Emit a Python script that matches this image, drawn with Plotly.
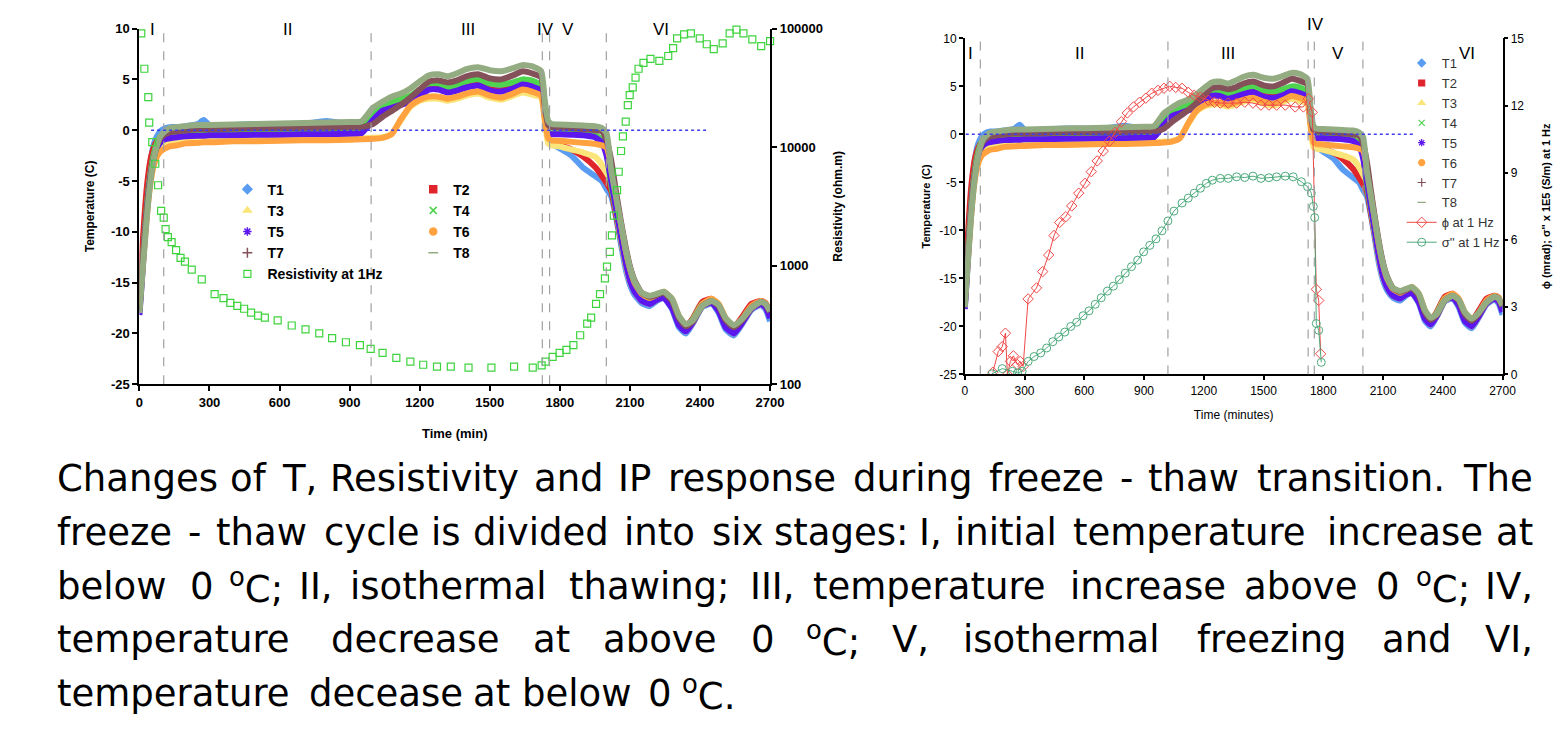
import plotly.graph_objects as go

# ---------------- data ----------------
time_T = [0, 10, 20, 30, 40, 50, 60, 75, 90, 110, 130, 160, 200, 250, 275, 300,
          400, 500, 600, 700, 800, 900, 950, 1000,
          1040, 1080, 1120, 1160, 1200, 1240, 1280, 1320, 1360, 1400, 1450, 1500, 1550, 1600, 1640, 1680, 1720,
          1735, 1750, 1765,
          1800, 1850, 1900, 1950, 1980, 2000,
          2020, 2040, 2060, 2080, 2100, 2120, 2150, 2185, 2215, 2245, 2280, 2310, 2340, 2370, 2410, 2450,
          2480, 2510, 2545, 2580, 2620, 2660, 2680, 2700]

T1 = [-17.5, -14, -10.5, -7, -4.5, -2.8, -1.5, -0.6, -0.1, 0.2, 0.3, 0.3, 0.4, 0.6, 1.0, 0.5,
      0.5, 0.6, 0.6, 0.6, 0.9, 0.6, 0.7, 1.6,
      2.3, 2.7, 3.0, 3.3, 3.9, 4.5, 4.5, 4.1, 4.3, 4.7, 4.9, 4.5, 4.4, 4.6, 4.9, 4.8, 4.3,
      1.5, -0.8, -1.3,
      -1.8, -2.5, -3.7, -4.5, -5.0, -5.8,
      -6.5, -8.5, -11.0, -13.5, -15.2, -16.2, -17.0, -17.3, -16.8, -16.5, -17.6, -19.4, -20.0, -19.0, -17.4, -17.1,
      -18.0, -19.6, -20.2, -19.1, -17.7, -17.2, -17.6, -18.8]
T2 = [-16.5, -12.5, -9, -6, -4, -2.6, -1.8, -1.1, -0.8, -0.6, -0.5, -0.5, -0.4, -0.4, -0.4, -0.4,
      -0.35, -0.3, -0.3, -0.3, -0.3, -0.25, -0.2, 1.0,
      2.0, 2.3, 2.6, 2.9, 3.5, 4.1, 4.1, 3.8, 4.0, 4.3, 4.5, 4.0, 3.9, 4.2, 4.6, 4.4, 4.0,
      1.8, -0.8, -1.3,
      -1.5, -1.9, -2.6, -3.6, -4.5, -5.2,
      -6.0, -8.3, -10.6, -13.0, -14.8, -15.7, -16.4, -16.6, -16.2, -16.0, -16.9, -18.6, -19.3, -18.5, -16.9, -16.6,
      -17.3, -18.8, -19.4, -18.4, -17.1, -16.8, -17.0, -18.0]
T3 = [-17.5, -14.5, -11.5, -8.5, -6, -4.2, -3, -2, -1.5, -1.2, -1.1, -1.0, -1.0, -0.9, -0.9, -0.9,
      -0.9, -0.85, -0.8, -0.8, -0.8, -0.8, -0.8, -0.75,
      -0.7, -0.35, 1.0, 2.3, 2.9, 3.1, 3.1, 2.9, 3.1, 3.4, 3.6, 3.2, 3.0, 3.4, 3.7, 3.5, 3.2,
      1.0, -1.3, -1.5,
      -1.6, -1.9, -2.2, -2.6, -3.4, -4.2,
      -5.0, -7.8, -10.4, -13.0, -14.9, -15.9, -16.8, -17.1, -16.7, -16.4, -17.4, -19.1, -19.8, -18.9, -17.3, -17.0,
      -17.7, -19.3, -20.0, -19.0, -17.6, -17.1, -17.4, -18.4]
T4 = [-17.8, -14.5, -11, -8, -5.5, -3.8, -2.5, -1.3, -0.6, -0.3, -0.2, -0.15, -0.1, -0.1, -0.1, -0.1,
      -0.05, 0, 0, 0, 0.05, 0.1, 0.1, 1.8,
      2.4, 2.8, 3.1, 3.4, 4.0, 4.6, 4.6, 4.2, 4.4, 4.8, 5.0, 4.6, 4.5, 4.7, 5.0, 4.9, 4.4,
      2.0, -0.2, -0.3,
      -0.3, -0.35, -0.4, -0.5, -0.9, -2.2,
      -5.5, -7.8, -10.3, -12.8, -14.6, -15.6, -16.5, -16.8, -16.4, -16.2, -17.1, -18.8, -19.5, -18.6, -17.1, -16.8,
      -17.5, -19.0, -19.6, -18.7, -17.4, -17.0, -17.2, -18.2]
T5 = [-18.2, -15, -11.5, -8.5, -6, -4.2, -3, -1.8, -1.2, -0.9, -0.8, -0.7, -0.6, -0.55, -0.55, -0.5,
      -0.5, -0.45, -0.45, -0.4, -0.4, -0.35, -0.3, 1.0,
      1.9, 2.2, 2.5, 2.8, 3.4, 4.0, 4.0, 3.7, 3.9, 4.2, 4.4, 3.9, 3.8, 4.1, 4.5, 4.3, 3.9,
      1.5, -0.3, -0.4,
      -0.4, -0.45, -0.5, -0.7, -1.2, -2.5,
      -5.0, -7.6, -10.2, -12.8, -14.8, -15.9, -16.8, -17.1, -16.7, -16.5, -17.5, -19.2, -19.8, -18.9, -17.3, -17.0,
      -17.8, -19.4, -20.0, -19.0, -17.6, -17.1, -17.4, -18.5]
T6 = [-17.2, -14.5, -11.8, -9, -6.5, -4.8, -3.6, -2.6, -2.1, -1.8, -1.6, -1.5, -1.3, -1.25, -1.2, -1.2,
      -1.1, -1.1, -1.05, -1.0, -1.0, -0.95, -0.9, -0.85,
      -0.75, -0.4, 1.1, 2.4, 3.0, 3.3, 3.3, 3.1, 3.3, 3.6, 3.8, 3.4, 3.2, 3.6, 4.0, 3.8, 3.4,
      1.2, -0.8, -1.0,
      -1.05, -1.15, -1.25, -1.35, -1.5, -1.7,
      -3.5, -6.3, -9.0, -11.6, -13.6, -15.0, -16.1, -16.5, -16.2, -15.9, -16.6, -18.3, -19.2, -18.7, -17.1, -16.6,
      -17.1, -18.5, -19.3, -18.6, -17.3, -16.8, -17.0, -17.8]
T7 = [-17.8, -14.5, -11.2, -8.3, -6, -4.2, -2.9, -1.6, -0.8, -0.4, -0.2, -0.1, 0.0, 0.1, 0.1, 0.1,
      0.15, 0.2, 0.2, 0.25, 0.25, 0.3, 0.3, 0.6,
      1.3, 1.9, 2.5, 3.2, 4.0, 4.8, 4.9, 4.7, 4.9, 5.3, 5.5, 5.1, 5.0, 5.4, 5.8, 5.6, 5.2,
      2.5, 0.5, 0.3,
      0.25, 0.2, 0.1, 0.0, -0.1, -1.0,
      -3.0, -6.0, -8.8, -11.3, -13.4, -14.8, -16.0, -16.4, -16.2, -16.0, -16.8, -18.5, -19.3, -18.8, -17.3, -16.8,
      -17.3, -18.7, -19.4, -18.7, -17.5, -16.9, -17.1, -17.9]
T8 = [-18.0, -15, -12, -9, -6.5, -4.5, -3, -1.5, -0.6, -0.1, 0.2, 0.3, 0.4, 0.5, 0.5, 0.5,
      0.55, 0.6, 0.65, 0.7, 0.75, 0.8, 0.85, 2.2,
      2.8, 3.3, 3.6, 4.1, 4.8, 5.4, 5.5, 5.3, 5.6, 6.0, 6.2, 5.9, 5.8, 6.1, 6.4, 6.3, 5.8,
      3.0, 0.9, 0.6,
      0.55, 0.5, 0.45, 0.4, 0.2, -0.3,
      -4.0, -6.5, -9.0, -11.5, -13.5, -14.9, -16.0, -16.3, -16.1, -15.9, -16.6, -18.3, -19.1, -18.7, -17.3, -16.8,
      -17.2, -18.5, -19.2, -18.6, -17.5, -16.9, -17.1, -17.8]

time_res = [8, 21, 38, 42, 55, 68, 80, 93, 104, 112, 122, 138, 157, 176, 195, 224, 267, 322, 360, 389,
            419, 448, 478, 508, 537, 592, 652, 711, 770, 825, 884, 944, 990, 1041, 1100, 1160, 1215, 1274, 1333, 1409,
            1507, 1604, 1684, 1722, 1739, 1769, 1799, 1828, 1858, 1887, 1917, 1934, 1955, 1972, 1993, 2002, 2014, 2023,
            2031, 2045, 2052, 2062, 2070, 2082, 2091, 2099, 2112, 2124, 2137, 2158, 2188, 2226, 2264, 2285, 2302, 2332,
            2361, 2399, 2429, 2459, 2497, 2527, 2556, 2586, 2624, 2662, 2700]
resistivity = [91000, 45800, 26400, 16100, 11000, 7240, 4770, 2900, 2540, 2030, 1740, 1580, 1355, 1165, 1080, 927,
               766, 575, 533, 485, 458, 433, 401, 379, 365, 345, 313, 290, 269, 245, 226, 214, 199, 184, 167, 155, 146,
               141, 141, 138, 138, 141, 138, 144, 155, 170, 184, 195, 214, 259, 325, 365, 477, 575, 782, 982, 1306, 1800,
               2640, 4330, 6200, 9270, 12300, 16400, 22600, 27400, 31900, 38600, 45800, 51400, 55500, 53400, 58700,
               68400, 82600, 89200, 91000, 82600, 73700, 67000, 75100, 91000, 98000, 91000, 81100, 71000, 78200]

time_phi = [141, 168, 188, 204, 214, 229, 244, 264, 278, 293, 318, 360, 391, 421, 448, 476, 507, 537, 572, 604,
            635, 665, 695, 726, 756, 786, 816, 847, 878, 909, 939, 970, 1000, 1029, 1059, 1091, 1122, 1152, 1183, 1223,
            1253, 1283, 1323, 1365, 1406, 1447, 1487, 1527, 1566, 1609, 1659, 1700, 1725, 1745, 1765, 1777, 1787]
phi = [0.1, 1.02, 1.24, 1.84, 0.0, 0.58, 0.83, 0.44, 0.58, 0.36, 3.37, 3.86, 4.59, 5.33, 6.2, 6.78, 7.04, 7.52, 8.09,
       8.53, 9.05, 9.53, 9.97, 10.41, 10.8, 11.28, 11.67, 11.94, 12.15, 12.33, 12.55, 12.68, 12.77, 12.86, 12.81,
       12.77, 12.59, 12.46, 12.37, 12.24, 12.15, 12.11, 12.11, 12.11, 12.15, 12.11, 12.02, 12.02, 12.02, 12.02,
       11.94, 11.94, 12.3, 11.7, 3.8, 3.3, 0.92]

time_sig = [137, 188, 239, 265, 288, 318, 348, 381, 411, 442, 472, 502, 532, 562, 594, 624, 655, 685, 716, 746,
            776, 806, 837, 868, 898, 929, 960, 990, 1020, 1050, 1091, 1122, 1152, 1183, 1213, 1243, 1283, 1323, 1365,
            1406, 1447, 1487, 1527, 1566, 1609, 1649, 1690, 1721, 1740, 1750, 1757, 1765, 1777, 1790]
sigma2 = [0.03, 0.26, 0.14, 0.07, 0.14, 0.58, 0.8, 0.96, 1.18, 1.46, 1.67, 1.89, 2.14, 2.33, 2.62, 2.84, 3.13, 3.42,
          3.72, 3.94, 4.23, 4.52, 4.81, 5.1, 5.47, 5.76, 6.05, 6.41, 6.85, 7.29, 7.65, 7.87, 8.09, 8.31, 8.53, 8.67,
          8.75, 8.75, 8.82, 8.79, 8.85, 8.75, 8.78, 8.82, 8.85, 8.82, 8.6, 8.38, 8.09, 7.5, 7.0, 2.27, 1.97, 0.54]

series_names = ["T1", "T2", "T3", "T4", "T5", "T6", "T7", "T8"]
stage_names = ["I", "II", "III", "IV", "V", "VI"]
stage_bounds_left = [104, 992, 1725, 1756, 1999]
stage_bounds_right = [78, 1020, 1724, 1755, 1999]
time_ticks = [0, 300, 600, 900, 1200, 1500, 1800, 2100, 2400, 2700]
temp_ticks = [10, 5, 0, -5, -10, -15, -20, -25]
temp_tick_text = ["10", "5", "0", "-5", "-10", "-15", "-20", "-25"]
res_ticks = [100, 1000, 10000, 100000]
res_tick_text = ["100", "1000", "10000", "100000"]

caption_lines = [
    "Changes of T, Resistivity and IP response during freeze - thaw transition. The",
    "freeze - thaw cycle is divided into six stages: I, initial temperature increase at",
    "below 0 <sup>o</sup>C; II, isothermal thawing; III, temperature increase above 0 <sup>o</sup>C; IV,",
    "temperature decrease at above 0 <sup>o</sup>C; V, isothermal freezing and VI,",
    "temperature decease at below 0 <sup>o</sup>C.",
]

# ---------------- styles ----------------
W, H = 1561, 743
SANS = "Liberation Sans, Arial, sans-serif"
T_series = [T1, T2, T3, T4, T5, T6, T7, T8]
T_colors = ["#5A9CF2", "#E0242C", "#FBE57A", "#4FD44F", "#5B17EE", "#FFA23F", "#84505A", "#94AC82"]
T_symbols = ["diamond", "square", "triangle-up", "x-thin-open", "asterisk-open", "circle", "cross-thin-open",
             "line-ew-open"]
RES_COLOR = "#3ED43E"
PHI_COLOR = "#F04848"
SIG_COLOR = "#4DAA7C"


def px_x(p):
    return p / W


def px_y(p):
    return 1 - p / H


fig = go.Figure()

for xa, ya in (("x", "y"), ("x2", "y3")):
    for vals, col in zip(T_series, T_colors):
        fig.add_trace(go.Scatter(x=time_T, y=vals, mode="lines", xaxis=xa, yaxis=ya,
                                 line=dict(color=col, width=6, shape="spline", smoothing=0.5),
                                 showlegend=False, hoverinfo="skip"))

fig.add_trace(go.Scatter(x=time_res, y=resistivity, mode="markers", xaxis="x", yaxis="y2",
                         marker=dict(symbol="square-open", size=7, color=RES_COLOR, line=dict(width=1.2)),
                         showlegend=False, cliponaxis=False, hoverinfo="skip"))
fig.add_trace(go.Scatter(x=time_phi, y=phi, mode="lines+markers", xaxis="x2", yaxis="y4",
                         line=dict(color=PHI_COLOR, width=1),
                         marker=dict(symbol="diamond-open", size=8, color=PHI_COLOR, line=dict(width=1)),
                         showlegend=False, hoverinfo="skip"))
fig.add_trace(go.Scatter(x=time_sig, y=sigma2, mode="lines+markers", xaxis="x2", yaxis="y4",
                         line=dict(color=SIG_COLOR, width=1),
                         marker=dict(symbol="circle-open", size=8, color=SIG_COLOR, line=dict(width=1)),
                         showlegend=False, hoverinfo="skip"))

# legend entries (left: two columns, right: one column)
for i, (nm, col, sym) in enumerate(zip(series_names, T_colors, T_symbols)):
    lg = "legend" if i % 2 == 0 else "legend2"
    fig.add_trace(go.Scatter(x=[None], y=[None], mode="markers", name=nm, legend=lg,
                             xaxis="x", yaxis="y",
                             marker=dict(symbol=sym, color=col, size=7, line=dict(color=col, width=1.5))))
fig.add_trace(go.Scatter(x=[None], y=[None], mode="markers", name="Resistivity at 1Hz", legend="legend",
                         xaxis="x", yaxis="y",
                         marker=dict(symbol="square-open", size=7, color=RES_COLOR, line=dict(width=1.2))))
for nm, col, sym in zip(series_names, T_colors, T_symbols):
    fig.add_trace(go.Scatter(x=[None], y=[None], mode="markers", name=nm, legend="legend3",
                             xaxis="x2", yaxis="y3",
                             marker=dict(symbol=sym, color=col, size=6, line=dict(color=col, width=1.2))))
fig.add_trace(go.Scatter(x=[None], y=[None], mode="lines+markers", name="\u03d5 at 1 Hz", legend="legend3",
                         xaxis="x2", yaxis="y4",
                         line=dict(color=PHI_COLOR, width=1),
                         marker=dict(symbol="diamond-open", size=8, color=PHI_COLOR)))
fig.add_trace(go.Scatter(x=[None], y=[None], mode="lines+markers", name="\u03c3'' at 1 Hz", legend="legend3",
                         xaxis="x2", yaxis="y4",
                         line=dict(color=SIG_COLOR, width=1),
                         marker=dict(symbol="circle-open", size=8, color=SIG_COLOR)))

bold_tick = dict(family=SANS, size=13, color="black", weight="bold")
reg_tick = dict(family=SANS, size=12, color="black")
axis_common = dict(showline=True, linecolor="black", ticks="outside", tickcolor="black", showgrid=False,
                   zeroline=False)

left_dom_x = [px_x(137), px_x(775)]
left_dom_y = [px_y(385), px_y(22)]
right_dom_x = [px_x(972), px_x(1516)]
right_dom_y = [px_y(375), px_y(32)]

fig.update_layout(
    width=W, height=H, margin=dict(l=0, r=0, t=0, b=0),
    paper_bgcolor="white", plot_bgcolor="white",
    xaxis=dict(domain=left_dom_x, range=[0, 2700], tickvals=time_ticks, anchor="y", linewidth=2, tickwidth=2,
               ticklen=5, tickfont=bold_tick,
               title=dict(text="Time (min)", font=dict(family=SANS, size=13, color="black", weight="bold"),
                          standoff=20), **axis_common),
    yaxis=dict(domain=left_dom_y, range=[-25, 10], tickvals=temp_ticks, ticktext=temp_tick_text, anchor="x",
               linewidth=2, tickwidth=2, ticklen=5, tickfont=bold_tick,
               title=dict(text="Temperature (C)", font=dict(family=SANS, size=12, color="black", weight="bold"),
                          standoff=14), **axis_common),
    yaxis2=dict(overlaying="y", side="right", anchor="x", type="log", range=[2, 5], tickvals=res_ticks,
                ticktext=res_tick_text, linewidth=2, tickwidth=2, ticklen=5, tickfont=bold_tick,
                title=dict(text="Resistivity (ohm.m)",
                           font=dict(family=SANS, size=12, color="black", weight="bold"), standoff=12),
                **axis_common),
    xaxis2=dict(domain=right_dom_x, range=[0, 2700], tickvals=time_ticks, anchor="y3", linewidth=1.5,
                tickwidth=1.5, ticklen=4, tickfont=reg_tick,
                title=dict(text="Time (minutes)", font=dict(family=SANS, size=12, color="black"), standoff=14),
                **axis_common),
    yaxis3=dict(domain=right_dom_y, range=[-25, 10], tickvals=temp_ticks, ticktext=temp_tick_text, anchor="x2",
                linewidth=1.5, tickwidth=1.5, ticklen=4, tickfont=reg_tick,
                title=dict(text="Temperature (C)", font=dict(family=SANS, size=11, color="black", weight="bold"),
                           standoff=6), **axis_common),
    yaxis4=dict(overlaying="y3", side="right", anchor="x2", range=[0, 15], dtick=3, linewidth=1.5,
                tickwidth=1.5, ticklen=4, tickfont=reg_tick,
                title=dict(text="\u03d5 (mrad); \u03c3'' x 1E5 (S/m) at 1 Hz",
                           font=dict(family=SANS, size=11, color="black", weight="bold"), standoff=19),
                **axis_common),
    legend=dict(x=px_x(226), y=px_y(170), xanchor="left", yanchor="top", bgcolor="rgba(0,0,0,0)",
                font=dict(family=SANS, size=14, color="black", weight="bold"), tracegroupgap=0,
                itemwidth=30),
    legend2=dict(x=px_x(414), y=px_y(170), xanchor="left", yanchor="top", bgcolor="rgba(0,0,0,0)",
                 font=dict(family=SANS, size=14, color="black", weight="bold"), tracegroupgap=0,
                 itemwidth=30),
    legend3=dict(x=px_x(1414), y=px_y(42), xanchor="left", yanchor="top", bgcolor="rgba(0,0,0,0)",
                 font=dict(family=SANS, size=13, color="#333333"), tracegroupgap=0, itemwidth=30),
)

shapes = []
for t in stage_bounds_left:
    shapes.append(dict(type="line", xref="x", yref="y", x0=t, x1=t, y0=-25, y1=10,
                       line=dict(color="#A0A0A0", width=1.2, dash="dash")))
for t in stage_bounds_right:
    shapes.append(dict(type="line", xref="x2", yref="y3", x0=t, x1=t, y0=-25, y1=10,
                       line=dict(color="#A0A0A0", width=1.2, dash="dash")))
shapes.append(dict(type="line", xref="x", yref="y", x0=50, x1=2430, y0=0, y1=0,
                   line=dict(color="#3C3CF0", width=1.5, dash="dot")))
shapes.append(dict(type="line", xref="x2", yref="y3", x0=5, x1=2250, y0=0, y1=0,
                   line=dict(color="#3C3CF0", width=1.5, dash="dot")))

annotations = []
stage_t_left = [55, 633, 1405, 1737, 1837, 2235]
stage_t_right = [30, 577, 1323, 1760, 1873, 2521]
stage_y_right = [47, 47, 47, 18, 47, 47]
for nm, t in zip(stage_names, stage_t_left):
    annotations.append(dict(text=nm, x=t, xref="x", y=px_y(23), yref="paper", showarrow=False,
                            xanchor="center", yanchor="middle",
                            font=dict(family=SANS, size=17, color="black")))
for nm, t, yy in zip(stage_names, stage_t_right, stage_y_right):
    annotations.append(dict(text=nm, x=t, xref="x2", y=px_y(yy), yref="paper", showarrow=False,
                            xanchor="center", yanchor="middle",
                            font=dict(family=SANS, size=17, color="black")))

# caption: justified text laid out word by word from approximate Calibri advance widths
CAL_W = {' ': 0.226, ',': 0.250, '-': 0.306, '.': 0.252, ':': 0.268, ';': 0.268, '0': 0.507, 'C': 0.533,
         'I': 0.252, 'P': 0.517, 'R': 0.543, 'T': 0.487, 'V': 0.579, 'a': 0.479, 'b': 0.525, 'c': 0.423,
         'd': 0.525, 'e': 0.498, 'f': 0.305, 'g': 0.471, 'h': 0.525, 'i': 0.229, 'k': 0.455, 'l': 0.229,
         'm': 0.799, 'n': 0.525, 'o': 0.527, 'p': 0.525, 'r': 0.349, 's': 0.391, 't': 0.335, 'u': 0.525,
         'v': 0.452, 'w': 0.715, 'x': 0.433, 'y': 0.453, 'z': 0.395}
CAP_REF = 47.0
CAP_LEFT, CAP_RIGHT = 53, 1548
CAP_FONT = dict(family="DejaVu Sans, sans-serif", size=37, color="black")
cap_line_y = [481, 536, 591, 646, 701]


def word_width(word):
    w = 0.0
    plain = word
    if "<sup>o</sup>" in word:
        plain = word.replace("<sup>o</sup>", "")
        w += 0.527 * 0.65
    for ch in plain:
        w += CAL_W.get(ch, 0.5)
    return w * CAP_REF


for i, line in enumerate(caption_lines):
    words = line.split(" ")
    widths = [word_width(w) for w in words]
    justified = i < len(caption_lines) - 1
    if justified:
        gap = (CAP_RIGHT - CAP_LEFT - sum(widths)) / (len(words) - 1)
    else:
        gap = CAL_W[" "] * CAP_REF
    x = CAP_LEFT
    for j, (wd_text, wd) in enumerate(zip(words, widths)):
        last = justified and j == len(words) - 1
        annotations.append(dict(text=wd_text, x=px_x(CAP_RIGHT if last else x), xref="paper",
                                y=px_y(cap_line_y[i]), yref="paper", showarrow=False,
                                xanchor="right" if last else "left", yanchor="middle", borderpad=0,
                                font=CAP_FONT))
        x += wd + gap

fig.update_layout(shapes=shapes, annotations=annotations)

fig.write_html("out.html")
